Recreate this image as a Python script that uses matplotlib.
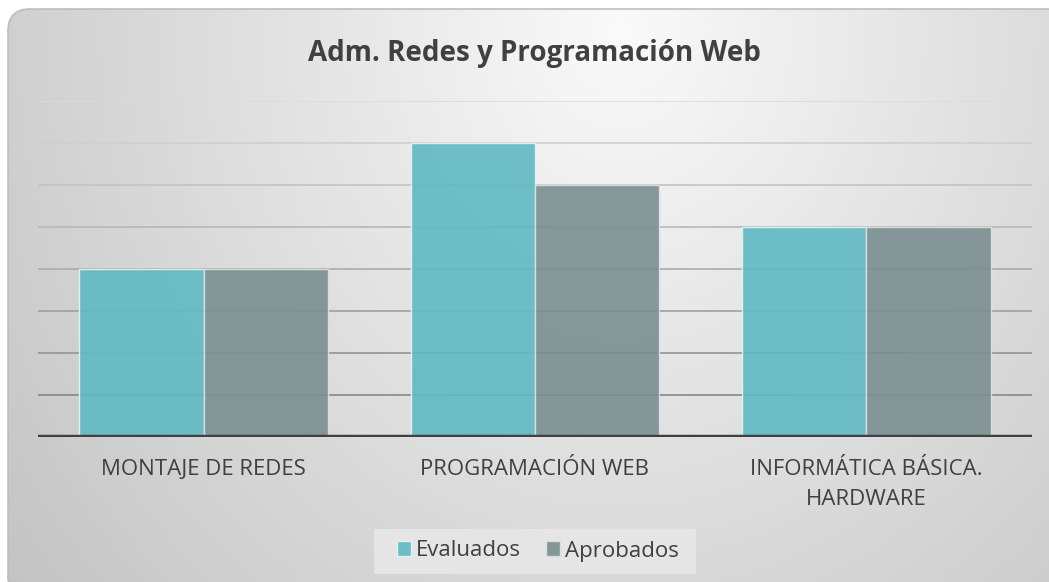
import numpy as np
import matplotlib
matplotlib.use("Agg")
import matplotlib.pyplot as plt
from matplotlib.patches import FancyBboxPatch, Patch, Rectangle

categories = ["MONTAJE DE REDES", "PROGRAMACIÓN WEB", "INFORMÁTICA BÁSICA.\nHARDWARE"]
evaluados = [4, 7, 5]
aprobados = [4, 6, 5]
series_names = ["Evaluados", "Aprobados"]
title = "Adm. Redes y Programación Web"

W, H = 1049, 582
plt.rcParams["font.family"] = ["Open Sans", "DejaVu Sans"]
fig = plt.figure(figsize=(W / 100, H / 100), dpi=100, facecolor="white")

# background card with soft radial gradient
bg = fig.add_axes([0, 0, 1, 1], zorder=-10)
bg.set_xlim(0, W); bg.set_ylim(H, 0); bg.axis("off")
yy, xx = np.mgrid[0:H, 0:W]
r = np.sqrt(((xx - 620) / 700.0) ** 2 + ((yy - 30) / 800.0) ** 2)
g = np.clip(0.98 - 0.19 * r, 0.77, 1.0)
img = bg.imshow(np.dstack([g, g, g]), extent=(0, W, H, 0), interpolation="bilinear")
card = FancyBboxPatch((8, 9), W - 8 + 20, H - 9 + 20, boxstyle="round,pad=0,rounding_size=22",
                      fc="none", ec="#bdbdbd", lw=1.2, transform=bg.transData)
bg.add_patch(card)
img.set_clip_path(card)
# legend panel
bg.add_patch(Rectangle((374, 529), 322, 45, fc="#e8e8e8", ec="none", alpha=0.85))

ax = fig.add_axes([38 / W, 1 - 437 / H, (1032 - 38) / W, (437 - 101) / H])
ax.set_facecolor("none")
x = np.arange(len(categories))
w = 0.375
for v in range(1, 9):
    t = (v - 1) / 7
    c = 0.53 + t * (0.86 - 0.53)
    ax.axhline(v, color=(c, c, c), lw=1.2, zorder=1)
ax.bar(x - w / 2, evaluados, w, color="#5fb9c2", alpha=0.9, ec="#e8f4f5", lw=1, zorder=2)
ax.bar(x + w / 2, aprobados, w, color="#7b8e91", alpha=0.9, ec="#dde2e3", lw=1, zorder=2)
ax.axhline(0, color="#404040", lw=3.2, zorder=3)
ax.set_xlim(-0.5, 2.5); ax.set_ylim(0, 8)
ax.set_yticks([])
ax.set_xticks(x)
ax.set_xticklabels(categories, fontsize=16, color="#404040", linespacing=1.55)
ax.tick_params(axis="x", length=0, pad=16)
for s in ax.spines.values():
    s.set_visible(False)

fig.text(534 / W, 1 - 53 / H, title, ha="center", va="center", fontsize=20,
         fontweight="bold", color="#404040")

handles = [Patch(fc="#5fb9c2", ec="#e8f4f5", alpha=0.9), Patch(fc="#7b8e91", ec="#dde2e3", alpha=0.9)]
leg = fig.legend(handles, series_names, loc="center", bbox_to_anchor=(538 / W, 1 - 551 / H),
                 ncol=2, frameon=False, fontsize=16, handlelength=0.62,
                 handleheight=0.62, handletextpad=0.25, columnspacing=1.1, borderpad=0.3,
                 labelcolor="#404040")

fig.savefig("out.png", dpi=100, facecolor="white")
